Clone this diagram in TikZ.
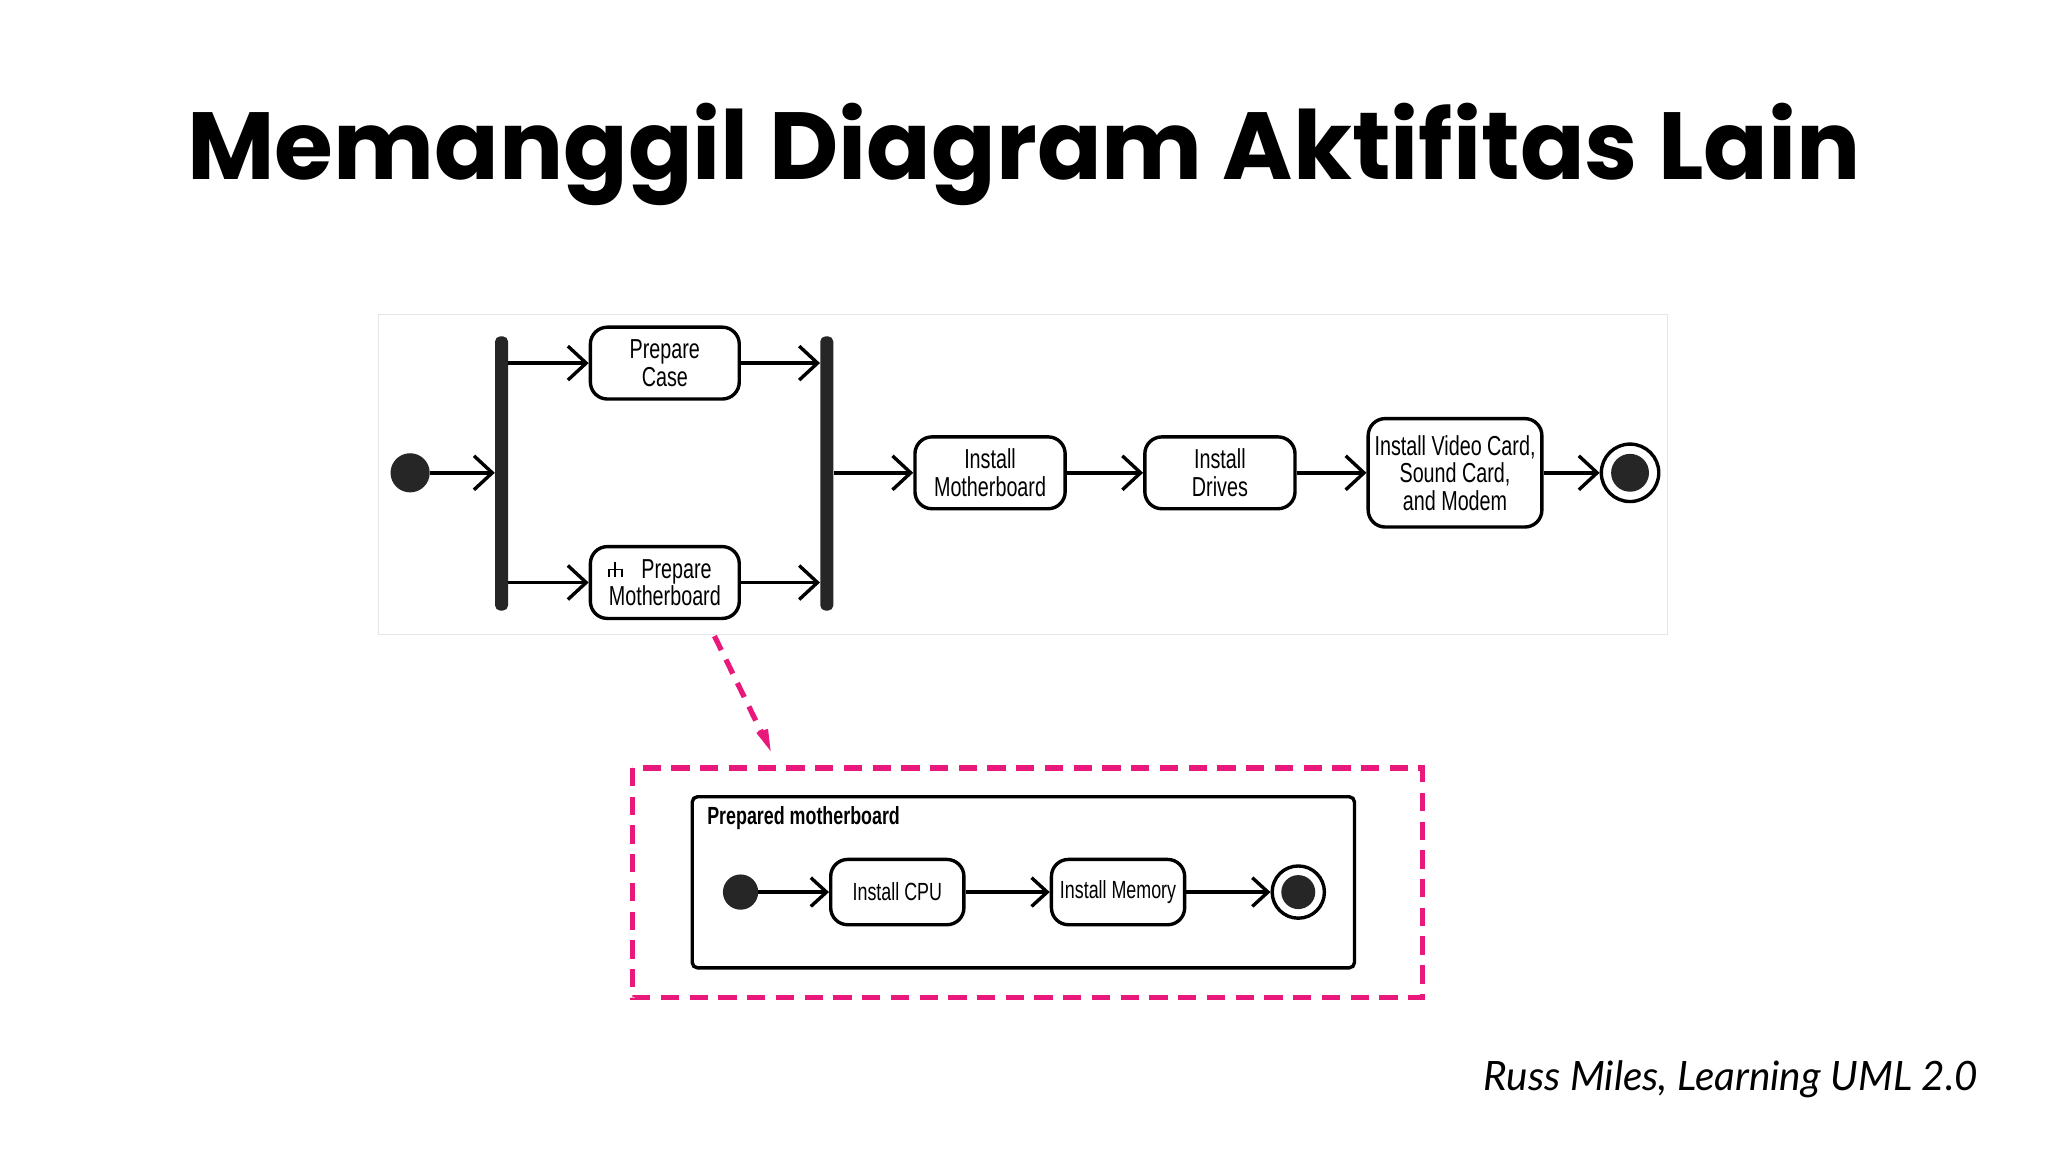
\documentclass[tikz,border=0pt]{standalone}
\usepackage{fontspec}
\setmainfont{Liberation Sans}
\newfontfamily\titlefont{Poppins}
\newfontfamily\citefont{Lato}
\newfontfamily\condfont[FakeStretch=0.72]{Liberation Sans}
\usetikzlibrary{arrows.meta,calc}
\definecolor{pinkc}{HTML}{E8197A}
\begin{document}
\begin{tikzpicture}[x=1pt,y=-1pt,
  act/.style={draw,line width=2.6pt,rounded corners=13pt,align=center,inner sep=0pt,font=\condfont\fontsize{21}{21}\selectfont},
  bar/.style={fill=black!85,rounded corners=4pt},
  flow/.style={line width=2.6pt,-{Straight Barb[length=14pt,width=26pt,line width=2.6pt]}},
  flows/.style={line width=2.6pt,-{Straight Barb[length=12pt,width=22pt,line width=2.6pt]}}]
\useasboundingbox (0,0) rectangle (1568,882);
\node[font=\titlefont\bfseries\fontsize{73}{75}\selectfont] (title) at (784,118) {Memanggil Diagram Aktifitas Lain};
\node[anchor=east,font=\citefont\itshape\fontsize{31}{32}\selectfont] (cite) at (1518,826) {Russ Miles, Learning UML 2.0};
% top panel
\draw[black!10,line width=0.8pt] (290,241) rectangle (1277,486);
\node[circle,fill=black!85,minimum size=30pt,inner sep=0] (init) at (314,362) {};
\node[bar,minimum width=10pt,minimum height=210pt,inner sep=0] (fork) at (384,362.5) {};
\node[bar,minimum width=10pt,minimum height=210pt,inner sep=0] (join) at (633,362.5) {};
\node[act,minimum width=114pt,minimum height=55pt] (case) at (509,278) {Prepare\\[0pt]Case};
\node[act,minimum width=114pt,minimum height=55pt] (pm) at (509,446) {\hspace*{18pt}Prepare\\[0pt]Motherboard};
\node[act,minimum width=115pt,minimum height=55pt] (im) at (758,362) {Install\\[0pt]Motherboard};
\node[act,minimum width=115pt,minimum height=55pt] (id) at (934,362) {Install\\[0pt]Drives};
\node[act,minimum width=133pt,minimum height=83pt] (iv) at (1114,362) {Install Video Card,\\[0pt]Sound Card,\\[0pt]and Modem};
\node[circle,draw,line width=2.6pt,minimum size=44pt,inner sep=0] (fin) at (1248,362) {};
\node[circle,fill=black!85,minimum size=29pt,inner sep=0] (fini) at (fin) {};
% rake icon
\draw[line width=1.4pt] (466,442) -- (466,436) -- (476,436) -- (476,442) (471,430) -- (471,442);
\draw[flow] (init) -- (fork.west|-init);
\draw[flow] (fork.east|-case) -- (case);
\draw[flow] (fork.east|-pm) -- (pm);
\draw[flow] (case) -- (join.west|-case);
\draw[flow] (pm) -- (join.west|-pm);
\draw[flow] (join.east|-im) -- (im);
\draw[flow] (im) -- (id);
\draw[flow] (id) -- (iv);
\draw[flow] (iv) -- (fin);
% pink
\coordinate (ps) at (547,487);
\coordinate (pe) at (590,575);
\draw[pinkc,line width=4pt,dash pattern=on 12pt off 8pt] (ps) -- ($(ps)!0.85!(pe)$);
\fill[pinkc] (pe) -- ++(-11,-14) -- ++(9,-3) -- cycle;
\draw[pinkc,line width=4pt,dash pattern=on 14pt off 8pt] (484,588) rectangle (1089,764);
% sub diagram
\draw[line width=2.6pt,rounded corners=4pt] (530,610) rectangle (1037,741);
\node[anchor=west,font=\condfont\bfseries\fontsize{19}{19}\selectfont] (lbl) at (538,626) {Prepared motherboard};
\node[circle,fill=black!85,minimum size=27pt,inner sep=0] (i2) at (567,683) {};
\node[act,minimum width=102pt,minimum height=50pt,font=\condfont\fontsize{19}{19}\selectfont] (cpu) at (687,683) {Install CPU};
\node[act,minimum width=102pt,minimum height=50pt,font=\condfont\fontsize{19}{19}\selectfont] (mem) at (856,683) {Install Memory};
\node[circle,draw,line width=2.6pt,minimum size=40pt,inner sep=0] (f2) at (994,683) {};
\node[circle,fill=black!85,minimum size=26pt,inner sep=0] (f2i) at (f2) {};
\draw[flows] (i2) -- (cpu);
\draw[flows] (cpu) -- (mem);
\draw[flows] (mem) -- (f2);
\end{tikzpicture}
\end{document}
